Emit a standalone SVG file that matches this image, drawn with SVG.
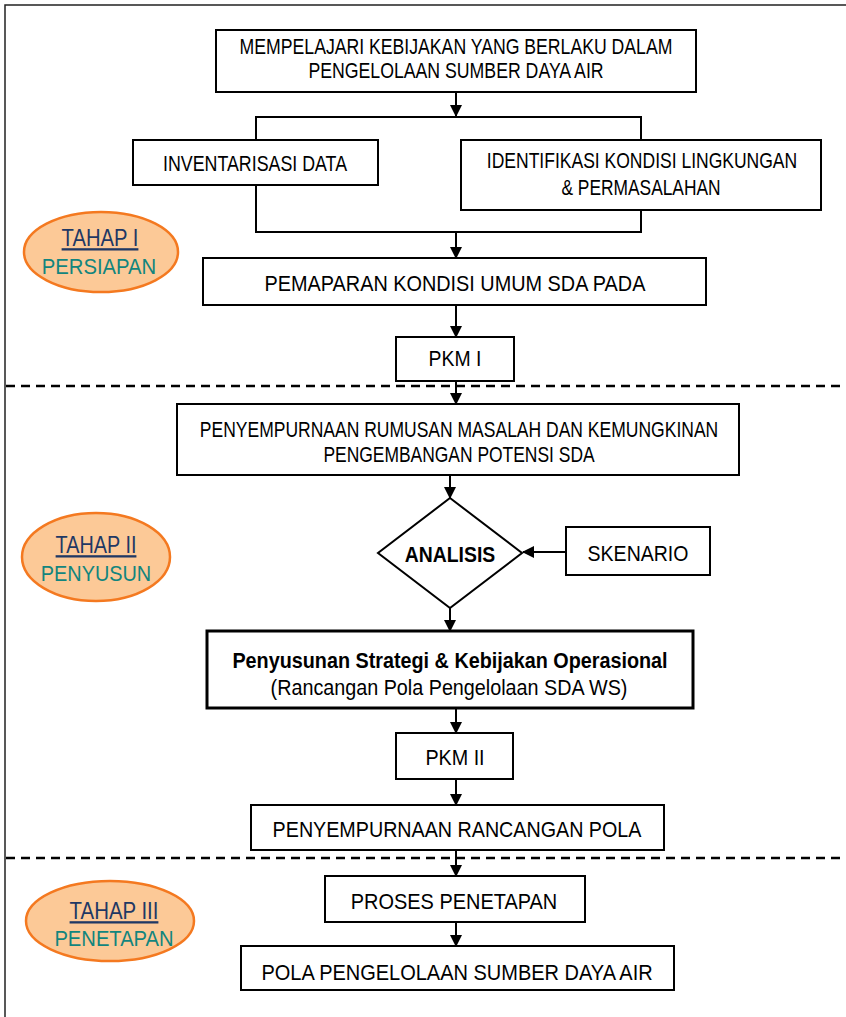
<svg xmlns="http://www.w3.org/2000/svg" width="846" height="1017" viewBox="0 0 846 1017">
<defs>
<marker id="ah" markerWidth="12" markerHeight="12" refX="11" refY="6" orient="auto" markerUnits="userSpaceOnUse"><path d="M0,0 L12,6 L0,12 Z" fill="#000"/></marker>
<style>
.box{fill:#fff;stroke:#000;stroke-width:2}
.bold{fill:#fff;stroke:#000;stroke-width:3}
.t{font-family:"Liberation Sans Narrow","Liberation Sans",Arial,sans-serif;font-size:22px;fill:#000;text-anchor:middle}
.b{font-weight:bold}
.ln{fill:none;stroke:#000;stroke-width:2}
.ar{fill:none;stroke:#000;stroke-width:2;marker-end:url(#ah)}
.dash{stroke:#000;stroke-width:2.5;stroke-dasharray:9,6}
.ell{fill:#FCC997;stroke:#F47920;stroke-width:2.5}
.tn{font-family:"Liberation Sans Narrow","Liberation Sans",Arial,sans-serif;font-size:23px;fill:#1F3864;text-anchor:middle;text-decoration:underline}
.tg{font-family:"Liberation Sans Narrow","Liberation Sans",Arial,sans-serif;font-size:22px;fill:#12857E;text-anchor:middle}
</style>
</defs>
<rect width="846" height="1017" fill="#fff"/>
<path d="M5,1017 V5 H846" fill="none" stroke="#222" stroke-width="1.5"/>
<line class="dash" x1="6" y1="386" x2="846" y2="386"/>
<line class="dash" x1="6" y1="858" x2="846" y2="858"/>

<g id="connectors">
<line class="ar" x1="456" y1="92" x2="456" y2="116"/>
<polyline class="ln" points="256,140 256,117 641,117 641,140"/>
<polyline class="ln" points="256,185 256,232 641,232 641,210"/>
<line class="ar" x1="456" y1="232" x2="456" y2="258"/>
<line class="ar" x1="456" y1="305" x2="456" y2="337"/>
<line class="ar" x1="456" y1="381" x2="456" y2="404"/>
<line class="ar" x1="450" y1="475" x2="450" y2="498"/>
<line class="ar" x1="566" y1="552" x2="523" y2="552"/>
<line class="ar" x1="450" y1="608" x2="450" y2="631"/>
<line class="ar" x1="456" y1="708" x2="456" y2="733"/>
<line class="ar" x1="456" y1="779" x2="456" y2="805"/>
<line class="ar" x1="456" y1="850" x2="456" y2="876"/>
<line class="ar" x1="456" y1="922" x2="456" y2="946"/>
</g>

<g id="n1"><rect class="box" x="216" y="30" width="480" height="62"/>
<text class="t" transform="translate(456,54) scale(0.8,1)" textLength="541" lengthAdjust="spacingAndGlyphs">MEMPELAJARI KEBIJAKAN YANG BERLAKU DALAM</text>
<text class="t" transform="translate(456,78) scale(0.8,1)" textLength="369" lengthAdjust="spacingAndGlyphs">PENGELOLAAN SUMBER DAYA AIR</text></g>

<g id="n2"><rect class="box" x="133" y="140" width="245" height="45"/>
<text class="t" transform="translate(255,171) scale(0.8,1)" textLength="230" lengthAdjust="spacingAndGlyphs">INVENTARISASI DATA</text></g>

<g id="n3"><rect class="box" x="461" y="140" width="360" height="70"/>
<text class="t" transform="translate(642,168) scale(0.8,1)" textLength="388" lengthAdjust="spacingAndGlyphs">IDENTIFIKASI KONDISI LINGKUNGAN</text>
<text class="t" transform="translate(641,195) scale(0.8,1)" textLength="199" lengthAdjust="spacingAndGlyphs">&amp; PERMASALAHAN</text></g>

<g id="n4"><rect class="box" x="203" y="258" width="503" height="47"/>
<text class="t" transform="translate(455,291) scale(0.8,1)" textLength="476" lengthAdjust="spacingAndGlyphs">PEMAPARAN KONDISI UMUM SDA PADA</text></g>

<g id="n5"><rect class="box" x="396" y="337" width="118" height="44"/>
<text class="t" transform="translate(455,366) scale(0.8,1)" textLength="66" lengthAdjust="spacingAndGlyphs">PKM I</text></g>

<g id="n6"><rect class="box" x="177" y="404" width="562" height="71"/>
<text class="t" transform="translate(459,437) scale(0.8,1)" textLength="648" lengthAdjust="spacingAndGlyphs">PENYEMPURNAAN RUMUSAN MASALAH DAN KEMUNGKINAN</text>
<text class="t" transform="translate(459,462) scale(0.8,1)" textLength="339" lengthAdjust="spacingAndGlyphs">PENGEMBANGAN POTENSI SDA</text></g>

<g id="n7"><polygon class="box" points="450,498 522,553 450,608 378,553"/>
<text class="t b" transform="translate(450,562) scale(0.8,1)" textLength="113" lengthAdjust="spacingAndGlyphs">ANALISIS</text></g>

<g id="n8"><rect class="box" x="566" y="527" width="144" height="48"/>
<text class="t" transform="translate(638,561) scale(0.8,1)" textLength="126" lengthAdjust="spacingAndGlyphs">SKENARIO</text></g>

<g id="n9"><rect class="bold" x="207" y="631" width="486" height="77"/>
<text class="t b" transform="translate(450,668) scale(0.8,1)" textLength="544" lengthAdjust="spacingAndGlyphs">Penyusunan Strategi &amp; Kebijakan Operasional</text>
<text class="t" transform="translate(449,695) scale(0.8,1)" textLength="446" lengthAdjust="spacingAndGlyphs">(Rancangan Pola Pengelolaan SDA WS)</text></g>

<g id="n10"><rect class="box" x="396" y="733" width="117" height="46"/>
<text class="t" transform="translate(455,765) scale(0.8,1)" textLength="74" lengthAdjust="spacingAndGlyphs">PKM II</text></g>

<g id="n11"><rect class="box" x="251" y="805" width="413" height="45"/>
<text class="t" transform="translate(457,837) scale(0.8,1)" textLength="461" lengthAdjust="spacingAndGlyphs">PENYEMPURNAAN RANCANGAN POLA</text></g>

<g id="n12"><rect class="box" x="325" y="876" width="260" height="46"/>
<text class="t" transform="translate(454,909) scale(0.8,1)" textLength="258" lengthAdjust="spacingAndGlyphs">PROSES PENETAPAN</text></g>

<g id="n13"><rect class="box" x="241" y="946" width="433" height="44"/>
<text class="t" transform="translate(457,980) scale(0.8,1)" textLength="489" lengthAdjust="spacingAndGlyphs">POLA PENGELOLAAN SUMBER DAYA AIR</text></g>

<g id="stage1"><ellipse class="ell" cx="101" cy="252" rx="77" ry="40"/>
<text class="tn" transform="translate(100,246) scale(0.8,1)" textLength="96" lengthAdjust="spacingAndGlyphs">TAHAP I</text>
<text class="tg" transform="translate(99,274) scale(0.8,1)" textLength="143" lengthAdjust="spacingAndGlyphs">PERSIAPAN</text></g>

<g id="stage2"><ellipse class="ell" cx="96" cy="557" rx="74" ry="44"/>
<text class="tn" transform="translate(96,553) scale(0.8,1)" textLength="101" lengthAdjust="spacingAndGlyphs">TAHAP II</text>
<text class="tg" transform="translate(96,581) scale(0.8,1)" textLength="138" lengthAdjust="spacingAndGlyphs">PENYUSUN</text></g>

<g id="stage3"><ellipse class="ell" cx="110" cy="921" rx="84" ry="40"/>
<text class="tn" transform="translate(114,919) scale(0.8,1)" textLength="111" lengthAdjust="spacingAndGlyphs">TAHAP III</text>
<text class="tg" transform="translate(114,946) scale(0.8,1)" textLength="149" lengthAdjust="spacingAndGlyphs">PENETAPAN</text></g>
</svg>
